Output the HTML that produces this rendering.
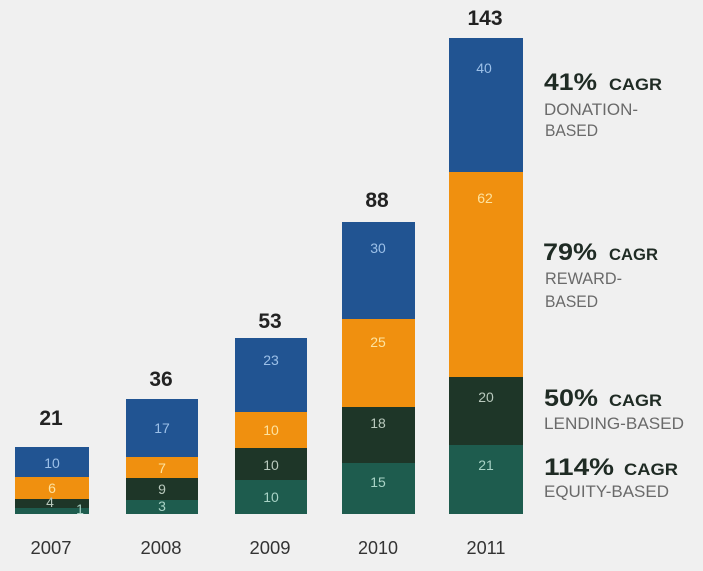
<!DOCTYPE html>
<html><head><meta charset="utf-8"><style>
html,body{margin:0;padding:0;background:#f0f0f0;}
svg{display:block;}
text{font-family:"Liberation Sans",sans-serif;}
.tot{font-size:21px;font-weight:bold;fill:#222;text-anchor:middle;}
.yr{font-size:18px;fill:#333;text-anchor:middle;}
.in{font-size:14px;text-anchor:middle;}
.b{fill:#9cc0e8}.o{fill:#fde3a0}.d{fill:#b9c9bd}.t{fill:#a9d3c6}
.h{font-size:24px;font-weight:bold;fill:#1f2b24;}
.c{font-size:17px;font-weight:bold;fill:#1f2b24;}
.s{font-size:17px;fill:#6a6a6a;}
</style></head><body>
<svg width="703" height="571" viewBox="0 0 703 571" xmlns="http://www.w3.org/2000/svg">
<rect width="703" height="571" fill="#f0f0f0"/>
<!-- 2007 -->
<rect x="15" y="447" width="74" height="30" fill="#215492"/>
<rect x="15" y="477" width="74" height="22" fill="#f0900f"/>
<rect x="15" y="499" width="74" height="9" fill="#1e3628"/>
<rect x="15" y="508" width="74" height="6" fill="#1e5c4e"/>
<text class="in b" x="52" y="468">10</text>
<text class="in o" x="52" y="493">6</text>
<text class="in d" x="50" y="507">4</text>
<text class="in t" x="80" y="514">1</text>
<text class="tot" x="51" y="425">21</text>
<text class="yr" x="51" y="554" textLength="41" lengthAdjust="spacingAndGlyphs">2007</text>
<!-- 2008 -->
<rect x="126" y="399" width="72" height="58" fill="#215492"/>
<rect x="126" y="457" width="72" height="21" fill="#f0900f"/>
<rect x="126" y="478" width="72" height="22" fill="#1e3628"/>
<rect x="126" y="500" width="72" height="14" fill="#1e5c4e"/>
<text class="in b" x="162" y="433">17</text>
<text class="in o" x="162" y="473">7</text>
<text class="in d" x="162" y="494">9</text>
<text class="in t" x="162" y="511">3</text>
<text class="tot" x="161" y="386">36</text>
<text class="yr" x="161" y="554" textLength="41" lengthAdjust="spacingAndGlyphs">2008</text>
<!-- 2009 -->
<rect x="235" y="338" width="72" height="74" fill="#215492"/>
<rect x="235" y="412" width="72" height="36" fill="#f0900f"/>
<rect x="235" y="448" width="72" height="32" fill="#1e3628"/>
<rect x="235" y="480" width="72" height="34" fill="#1e5c4e"/>
<text class="in b" x="271" y="365">23</text>
<text class="in o" x="271" y="435">10</text>
<text class="in d" x="271" y="470">10</text>
<text class="in t" x="271" y="502">10</text>
<text class="tot" x="270" y="328">53</text>
<text class="yr" x="270" y="554" textLength="41" lengthAdjust="spacingAndGlyphs">2009</text>
<!-- 2010 -->
<rect x="342" y="222" width="73" height="97" fill="#215492"/>
<rect x="342" y="319" width="73" height="88" fill="#f0900f"/>
<rect x="342" y="407" width="73" height="56" fill="#1e3628"/>
<rect x="342" y="463" width="73" height="51" fill="#1e5c4e"/>
<text class="in b" x="378" y="253">30</text>
<text class="in o" x="378" y="347">25</text>
<text class="in d" x="378" y="428">18</text>
<text class="in t" x="378" y="487">15</text>
<text class="tot" x="377" y="207">88</text>
<text class="yr" x="378" y="554" textLength="40" lengthAdjust="spacingAndGlyphs">2010</text>
<!-- 2011 -->
<rect x="449" y="38" width="74" height="134" fill="#215492"/>
<rect x="449" y="172" width="74" height="205" fill="#f0900f"/>
<rect x="449" y="377" width="74" height="68" fill="#1e3628"/>
<rect x="449" y="445" width="74" height="69" fill="#1e5c4e"/>
<text class="in b" x="484" y="73">40</text>
<text class="in o" x="485" y="203">62</text>
<text class="in d" x="486" y="402">20</text>
<text class="in t" x="486" y="470">21</text>
<text class="tot" x="485" y="25">143</text>
<text class="yr" x="486" y="554" textLength="39" lengthAdjust="spacingAndGlyphs">2011</text>
<!-- right labels -->
<text class="h" x="544" y="90" textLength="53" lengthAdjust="spacingAndGlyphs">41%</text>
<text class="c" x="609" y="90" textLength="53" lengthAdjust="spacingAndGlyphs">CAGR</text>
<text class="s" x="544" y="115" textLength="94" lengthAdjust="spacingAndGlyphs">DONATION-</text>
<text class="s" x="545" y="136" textLength="53" lengthAdjust="spacingAndGlyphs">BASED</text>

<text class="h" x="543" y="260" textLength="54" lengthAdjust="spacingAndGlyphs">79%</text>
<text class="c" x="609" y="260" textLength="49" lengthAdjust="spacingAndGlyphs">CAGR</text>
<text class="s" x="545" y="284" textLength="77" lengthAdjust="spacingAndGlyphs">REWARD-</text>
<text class="s" x="545" y="307" textLength="53" lengthAdjust="spacingAndGlyphs">BASED</text>

<text class="h" x="544" y="406" textLength="54" lengthAdjust="spacingAndGlyphs">50%</text>
<text class="c" x="609" y="406" textLength="53" lengthAdjust="spacingAndGlyphs">CAGR</text>
<text class="s" x="544" y="429" textLength="140" lengthAdjust="spacingAndGlyphs">LENDING-BASED</text>

<text class="h" x="544" y="475" textLength="70" lengthAdjust="spacingAndGlyphs">114%</text>
<text class="c" x="624" y="475" textLength="54" lengthAdjust="spacingAndGlyphs">CAGR</text>
<text class="s" x="544" y="497" textLength="125" lengthAdjust="spacingAndGlyphs">EQUITY-BASED</text>
</svg>
</body></html>
